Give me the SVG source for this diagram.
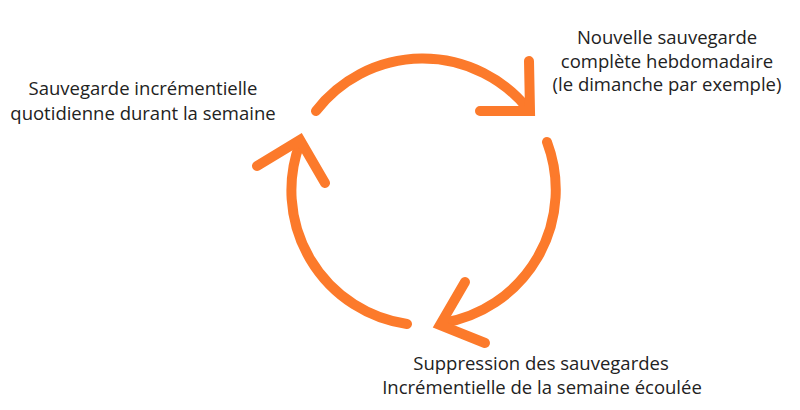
<svg xmlns="http://www.w3.org/2000/svg" width="800" height="410" viewBox="0 0 800 410">
<style>
.arc{fill:none;stroke:#FC7A2B;stroke-width:10;stroke-linecap:round;stroke-linejoin:miter}
.t{font-family:"Open Sans","Liberation Sans",sans-serif;font-size:18.5px;fill:#222;text-anchor:middle}
</style>
<rect width="800" height="410" fill="#fff"/>
<g id="connectors">
<path class="arc" d="M316,111 A135,135 0 0 1 528,109"/>
<path class="arc" d="M529,61 L530,111 L480,111"/>
<path class="arc" d="M547,142 A135,135 0 0 1 443,323"/>
<path class="arc" d="M465,282 L440,325 L485,343"/>
<path class="arc" d="M407,324 A135,135 0 0 1 300,143"/>
<path class="arc" d="M257,166 L300,140 L325,183"/>
</g>
<g id="node-incremental">
<text class="t" x="143" y="95">Sauvegarde incrémentielle</text>
<text class="t" x="143" y="120">quotidienne durant la semaine</text>
</g>
<g id="node-full">
<text class="t" x="667" y="44">Nouvelle sauvegarde</text>
<text class="t" x="667" y="68">complète hebdomadaire</text>
<text class="t" x="667" y="91">(le dimanche par exemple)</text>
</g>
<g id="node-delete">
<text class="t" x="541" y="370">Suppression des sauvegardes</text>
<text class="t" x="542" y="394">Incrémentielle de la semaine écoulée</text>
</g>
</svg>
